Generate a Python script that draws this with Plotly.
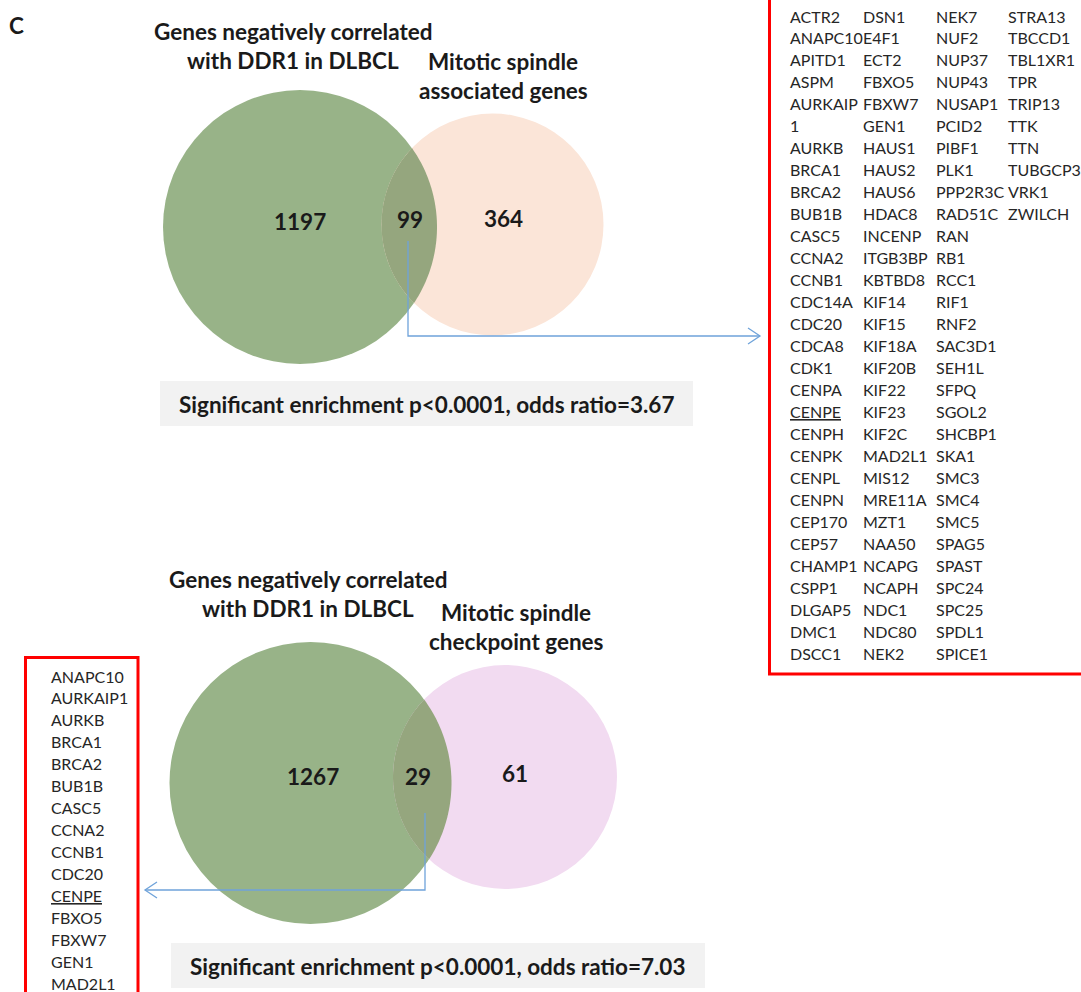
import numpy as np
import plotly.graph_objects as go

# ---------------- data ----------------
panel_label = "C"
set_a_label = ["Genes negatively correlated", "with DDR1 in DLBCL"]
top_set_b_label = ["Mitotic spindle", "associated genes"]
bot_set_b_label = ["Mitotic spindle", "checkpoint genes"]

top_counts = [1197, 99, 364]      # only A, overlap, only B
bot_counts = [1267, 29, 61]
top_stat = "Significant enrichment p<0.0001, odds ratio=3.67"
bot_stat = "Significant enrichment p<0.0001, odds ratio=7.03"

top_genes_col1 = ["ACTR2", "ANAPC10", "APITD1", "ASPM", "AURKAIP", "1", "AURKB", "BRCA1", "BRCA2", "BUB1B",
                  "CASC5", "CCNA2", "CCNB1", "CDC14A", "CDC20", "CDCA8", "CDK1", "CENPA", "CENPE", "CENPH",
                  "CENPK", "CENPL", "CENPN", "CEP170", "CEP57", "CHAMP1", "CSPP1", "DLGAP5", "DMC1", "DSCC1"]
top_genes_col2 = ["DSN1", "E4F1", "ECT2", "FBXO5", "FBXW7", "GEN1", "HAUS1", "HAUS2", "HAUS6", "HDAC8",
                  "INCENP", "ITGB3BP", "KBTBD8", "KIF14", "KIF15", "KIF18A", "KIF20B", "KIF22", "KIF23", "KIF2C",
                  "MAD2L1", "MIS12", "MRE11A", "MZT1", "NAA50", "NCAPG", "NCAPH", "NDC1", "NDC80", "NEK2"]
top_genes_col3 = ["NEK7", "NUF2", "NUP37", "NUP43", "NUSAP1", "PCID2", "PIBF1", "PLK1", "PPP2R3C", "RAD51C",
                  "RAN", "RB1", "RCC1", "RIF1", "RNF2", "SAC3D1", "SEH1L", "SFPQ", "SGOL2", "SHCBP1",
                  "SKA1", "SMC3", "SMC4", "SMC5", "SPAG5", "SPAST", "SPC24", "SPC25", "SPDL1", "SPICE1"]
top_genes_col4 = ["STRA13", "TBCCD1", "TBL1XR1", "TPR", "TRIP13", "TTK", "TTN", "TUBGCP3", "VRK1", "ZWILCH"]
bot_genes = ["ANAPC10", "AURKAIP1", "AURKB", "BRCA1", "BRCA2", "BUB1B", "CASC5", "CCNA2", "CCNB1",
             "CDC20", "CENPE", "FBXO5", "FBXW7", "GEN1", "MAD2L1"]
underlined = ["CENPE"]

# ---------------- layout constants ----------------
W, H = 1081, 992
FONT = "Lato"
TXT = "#1a1a1a"
GENE_TXT = "#262626"
GREEN = "#98B388"
PEACH = "#FBE5D8"
PINK = "#F2DBF1"
LENS = "#95A67E"
BLUE = "#6FA3DA"
RED = "#FF0000"
BIG = 22.5
SMALL = 16

top_venn = dict(a=(300, 227, 137), b=(492.5, 224.5, 111), b_col=PEACH)
bot_venn = dict(a=(310.5, 783, 141), b=(505, 777, 112), b_col=PINK)

fig = go.Figure()
shapes = []
annots = []


def circle(c, col):
    x, y, r = c
    return dict(type="circle", xref="x", yref="y", x0=x - r, x1=x + r, y0=y - r, y1=y + r,
                fillcolor=col, line=dict(width=0), layer="below")


def lens_path(c1, c2, n=60):
    x1, y1, r1 = c1
    x2, y2, r2 = c2
    d = np.hypot(x2 - x1, y2 - y1)
    a = (r1 ** 2 - r2 ** 2 + d ** 2) / (2 * d)
    h = np.sqrt(r1 ** 2 - a ** 2)
    ux, uy = (x2 - x1) / d, (y2 - y1) / d
    px, py = x1 + a * ux, y1 + a * uy
    p1 = (px - h * uy, py + h * ux)
    p2 = (px + h * uy, py - h * ux)

    def unwrap(t, base):
        return base + (t - base + np.pi) % (2 * np.pi) - np.pi
    base1 = np.arctan2(uy, ux)
    t1a = unwrap(np.arctan2(p2[1] - y1, p2[0] - x1), base1)
    t1b = unwrap(np.arctan2(p1[1] - y1, p1[0] - x1), base1)
    arc1 = [(x1 + r1 * np.cos(t), y1 + r1 * np.sin(t)) for t in np.linspace(t1a, t1b, n)]
    base2 = np.arctan2(-uy, -ux)
    t2a = unwrap(np.arctan2(p1[1] - y2, p1[0] - x2), base2)
    t2b = unwrap(np.arctan2(p2[1] - y2, p2[0] - x2), base2)
    arc2 = [(x2 + r2 * np.cos(t), y2 + r2 * np.sin(t)) for t in np.linspace(t2a, t2b, n)]
    pts = arc1 + arc2
    return "M " + " L ".join(f"{px_:.2f},{py_:.2f}" for px_, py_ in pts) + " Z"


def text(x, y, s, size, anchor="center", bold=False, color=TXT, yanchor="middle"):
    if bold:
        s = f"<b>{s}</b>"
    annots.append(dict(x=x, y=y, xref="x", yref="y", text=s, showarrow=False,
                       xanchor=anchor, yanchor=yanchor,
                       font=dict(family=FONT, size=size, color=color)))


def elbow_arrow(pts, direction):
    xs = [p[0] for p in pts]
    ys = [p[1] for p in pts]
    fig.add_trace(go.Scatter(x=xs, y=ys, mode="lines", line=dict(color=BLUE, width=1.3),
                             hoverinfo="skip", showlegend=False))
    tx, ty = pts[-1]
    hx = tx - 12 * direction
    fig.add_trace(go.Scatter(x=[hx, tx, hx], y=[ty - 8, ty, ty + 8], mode="lines",
                             line=dict(color=BLUE, width=1.3), hoverinfo="skip", showlegend=False))


def venn(v, counts, b_label, a_title_y, b_title_y, a_x, b_x, num_pos):
    shapes.append(circle(v["a"], GREEN))
    shapes.append(circle(v["b"], v["b_col"]))
    shapes.append(dict(type="path", xref="x", yref="y", path=lens_path(v["a"], v["b"]),
                       fillcolor=LENS, line=dict(width=0), layer="below"))
    text(a_x, a_title_y, set_a_label[0], BIG, bold=True)
    text(a_x, a_title_y + 29, set_a_label[1], BIG, bold=True)
    text(b_x, b_title_y, b_label[0], BIG, bold=True)
    text(b_x, b_title_y + 29, b_label[1], BIG, bold=True)
    for (x, y), c in zip(num_pos, counts):
        text(x, y, str(c), BIG, bold=True)


# panel label
text(16, 25, panel_label, BIG, bold=True)

# top venn
venn(top_venn, top_counts, top_set_b_label, 31, 61, 293, 503,
     [(300, 221), (410, 219), (503, 218)])
# bottom venn
venn(bot_venn, bot_counts, bot_set_b_label, 579, 612, 308, 516,
     [(313, 776), (418, 776), (515, 773)])

# stat boxes
shapes.append(dict(type="rect", xref="x", yref="y", x0=160, x1=693, y0=381, y1=426,
                   fillcolor="#F2F2F2", line=dict(width=0), layer="below"))
text(426, 404, top_stat, BIG, bold=True)
shapes.append(dict(type="rect", xref="x", yref="y", x0=171, x1=705, y0=943, y1=988,
                   fillcolor="#F2F2F2", line=dict(width=0), layer="below"))
text(437, 966, bot_stat, BIG, bold=True)

# arrows
elbow_arrow([(408, 241), (408, 336), (760, 336)], +1)
elbow_arrow([(425, 813), (425, 890), (145, 890)], -1)

# gene boxes
shapes.append(dict(type="rect", xref="x", yref="y", x0=769.5, x1=1090, y0=-10, y1=674,
                   fillcolor="rgba(0,0,0,0)", line=dict(color=RED, width=3), layer="above"))
shapes.append(dict(type="rect", xref="x", yref="y", x0=25.5, x1=138, y0=657.5, y1=1010,
                   fillcolor="rgba(0,0,0,0)", line=dict(color=RED, width=3), layer="above"))

ROW0, DY = 16, 21.97
for col_x, genes in zip([788, 861, 934, 1006],
                        [top_genes_col1, top_genes_col2, top_genes_col3, top_genes_col4]):
    for i, g in enumerate(genes):
        s = f"<u>{g}</u>" if g in underlined else g
        text(col_x, ROW0 + i * DY, s, SMALL, anchor="left", color=GENE_TXT)

for i, g in enumerate(bot_genes):
    s = f"<u>{g}</u>" if g in underlined else g
    text(49, 676 + i * 21.93, s, SMALL, anchor="left", color=GENE_TXT)

fig.update_layout(
    width=W, height=H, margin=dict(l=0, r=0, t=0, b=0),
    paper_bgcolor="white", plot_bgcolor="white",
    xaxis=dict(range=[0, W], visible=False, fixedrange=True),
    yaxis=dict(range=[H, 0], visible=False, fixedrange=True),
    shapes=shapes, annotations=annots, showlegend=False,
)
fig.write_html("out.html", config={"displayModeBar": False},
               post_script="document.body.style.margin='0';document.body.style.overflow='hidden';")
